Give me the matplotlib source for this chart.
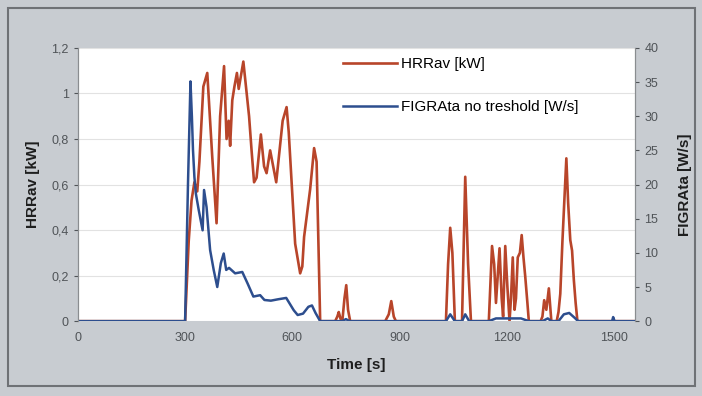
import matplotlib.pyplot as plt
from matplotlib.patches import Rectangle
from matplotlib.ticker import FuncFormatter

plt.rcParams["font.family"] = ["Liberation Sans", "DejaVu Sans"]

# HRRav [kW]
hrr_time = [0, 300, 310, 318, 326, 334, 340, 351, 362, 376, 388, 398, 409, 416,
            422, 426, 432, 438, 445, 450, 463, 479, 486, 493, 500, 512, 521, 528,
            538, 555, 573, 584, 590, 608, 622, 628, 633, 650, 661, 668, 678, 720,
            726, 730, 735, 740, 746, 751, 756, 762, 860, 870, 877, 884, 890, 1030,
            1036, 1042, 1048, 1055, 1075, 1084, 1092, 1100, 1150, 1159, 1165, 1170,
            1175, 1180, 1186, 1190, 1196, 1202, 1208, 1212, 1217, 1222, 1226, 1231,
            1237, 1242, 1247, 1252, 1258, 1262, 1295, 1300, 1305, 1311, 1318, 1325,
            1340, 1345, 1350, 1356, 1362, 1367, 1372, 1378, 1383, 1388, 1393, 1398,
            1560]
hrr_value = [0, 0, 0.35, 0.53, 0.61, 0.57, 0.70, 1.03, 1.09, 0.72, 0.43, 0.90, 1.12,
             0.80, 0.88, 0.77, 0.97, 1.03, 1.09, 1.02, 1.14, 0.90, 0.75, 0.61, 0.63,
             0.82, 0.68, 0.65, 0.75, 0.61, 0.88, 0.94, 0.83, 0.34, 0.21, 0.24, 0.37,
             0.58, 0.76, 0.70, 0.0, 0, 0.02, 0.04, 0.01, 0.0, 0.10, 0.158, 0.05, 0,
             0, 0.03, 0.088, 0.02, 0, 0, 0.25, 0.41, 0.30, 0, 0, 0.634, 0.25, 0, 0,
             0.33, 0.25, 0.08, 0.20, 0.32, 0.10, 0.02, 0.33, 0.15, 0.0, 0.1, 0.28,
             0.05, 0.1, 0.28, 0.30, 0.378, 0.28, 0.195, 0.08, 0, 0, 0.02, 0.092, 0.05,
             0.144, 0, 0, 0.04, 0.12, 0.35, 0.55, 0.715, 0.52, 0.356, 0.31, 0.18, 0.08,
             0, 0]

# FIGRAta no treshold [W/s]
figra_time = [0, 300, 308, 315, 319, 322, 326, 330, 338, 349, 353, 360, 370, 380,
              390, 400, 408, 415, 423, 440, 460, 475, 491, 510, 522, 540, 560, 583,
              604, 615, 630, 645, 655, 665, 678, 740, 750, 760, 1030, 1042, 1055,
              1075, 1084, 1095, 1150, 1170, 1200, 1240, 1262, 1300, 1315, 1325, 1345,
              1360, 1375, 1390, 1400, 1495, 1498, 1502, 1560]
figra_value = [0, 0, 20, 35.1, 29.9, 25.1, 21.1, 18.7, 16.3, 13.3, 19.2, 16.7, 10.4,
               7.5, 5.0, 8.5, 9.9, 7.5, 7.8, 7.0, 7.2, 5.5, 3.6, 3.8, 3.1, 3.0, 3.2,
               3.4, 1.6, 0.9, 1.1, 2.1, 2.3, 1.2, 0, 0, 0.3, 0, 0, 1.0, 0, 0, 1.0, 0,
               0, 0.4, 0.4, 0.4, 0, 0, 0.4, 0, 0, 1.0, 1.2, 0.5, 0, 0, 0.6, 0, 0]

x_ticks = [0, 300, 600, 900, 1200, 1500]
hrr_ticks = [0, 0.2, 0.4, 0.6, 0.8, 1.0, 1.2]
figra_ticks = [0, 5, 10, 15, 20, 25, 30, 35, 40]

red = "#b8452a"
blue = "#2d4e8e"
panel = "#c8ccd1"
tick_color = "#505458"

fig = plt.figure(figsize=(7.02, 3.96), dpi=100, facecolor=panel)
fig.patches.append(Rectangle((0.012, 0.025), 0.978, 0.955, transform=fig.transFigure,
                             fill=False, edgecolor="#6f7276", linewidth=1.5))

ax = fig.add_axes([0.111, 0.189, 0.794, 0.690])
ax.set_facecolor("white")
ax2 = ax.twinx()

l1, = ax.plot(hrr_time, hrr_value, color=red, linewidth=1.9, label="HRRav [kW]")
l2, = ax2.plot(figra_time, figra_value, color=blue, linewidth=1.8,
               label="FIGRAta no treshold [W/s]")

ax.set_xlim(0, 1560)
ax.set_ylim(0, 1.2)
ax2.set_ylim(0, 40)
ax.set_xticks(x_ticks)
ax.set_yticks(hrr_ticks)
ax2.set_yticks(figra_ticks)
ax.yaxis.set_major_formatter(FuncFormatter(lambda v, p: f"{v:g}".replace(".", ",")))
ax.grid(axis="y", color="#e2e2e2", linewidth=0.8)
ax.set_axisbelow(True)

for a in (ax, ax2):
    for side in ("top", "bottom"):
        a.spines[side].set_visible(False)
    a.spines["left"].set_color("#8a8d90")
    a.spines["right"].set_color("#8a8d90")
    a.tick_params(labelsize=9, colors=tick_color, length=3, width=0.8)
ax.tick_params(axis="x", length=0, pad=8)

ax.set_xlabel("Time [s]", fontsize=11, fontweight="bold", color="#1e1e1e", labelpad=10)
ax.set_ylabel("HRRav [kW]", fontsize=11, fontweight="bold", color="#1e1e1e", labelpad=8)
ax2.set_ylabel("FIGRAta [W/s]", fontsize=11, fontweight="bold", color="#1e1e1e",
               rotation=90, labelpad=14)

fig.legend([l1, l2], [l1.get_label(), l2.get_label()], loc="upper left",
           bbox_to_anchor=(0.478, 0.875), frameon=False, fontsize=11,
           handlelength=3.5, handletextpad=0.3, labelspacing=1.88, borderpad=0)

fig.savefig("out.png", dpi=100, facecolor=panel)
